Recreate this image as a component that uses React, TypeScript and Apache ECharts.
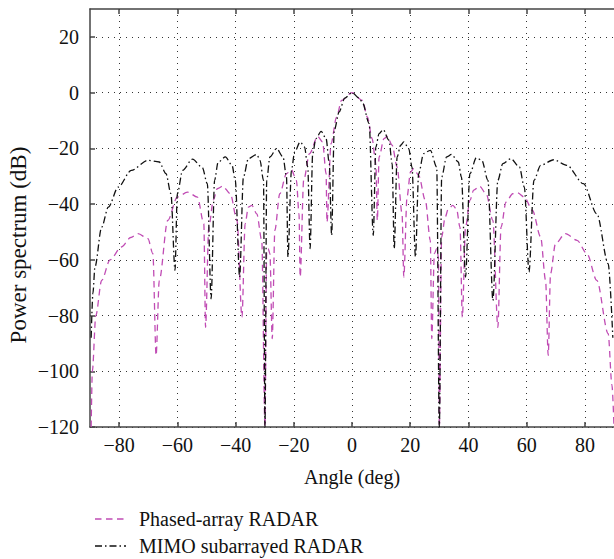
import React, { useEffect, useRef } from "react";
import * as echarts from "echarts";

const seriesNames = ["Phased-array RADAR", "MIMO subarrayed RADAR"];
const xTickValues = [-80, -60, -40, -20, 0, 20, 40, 60, 80];
const yTickValues = [-120, -100, -80, -60, -40, -20, 0, 20];

const phasedAngles = [
  -89.6, -89.2, -88.0, -86.0, -83.1, -79.2, -76.0, -73.5, -70.1, -68.4, -67.3,
  -66.2, -63.3, -60.0, -56.5, -53.1, -50.9, -50.3,
  -49.2, -47.6, -46.3, -44.4, -41.8, -39.5, -37.8,
  -36.7, -35.6, -34.4, -32.7, -31.0, -29.9,
  -29.3, -28.8, -28.2, -27.4,
  -26.5, -24.8, -22.5, -20.8, -19.1, -18.2, -17.8,
  -16.6, -14.6, -11.8, -10.1, -8.9, -8.6,
  -7.2, -5.3, -3.6, 0, 3.6, 5.3, 6.9, 8.2, 8.7,
  9.3, 11.0, 12.1, 13.8, 15.5, 17.2, 17.8,
  18.9, 20.1, 21.2, 22.9, 25.2, 26.9, 27.4,
  28.3, 29.1, 29.7, 30.0,
  30.8, 32.0, 33.1, 34.6, 35.9, 37.1, 37.9,
  39.0, 40.5, 41.8, 43.8, 46.1, 48.4, 50.1,
  51.2, 52.9, 55.2, 56.9, 59.2, 62.0, 64.8, 66.5, 67.4,
  68.2, 69.9, 73.3, 77.3, 80.7, 84.1, 88.0, 89.3, 90.0,
];
const phasedDb = [
  -120, -100, -80, -67.4, -60, -55.4, -52.0, -50.6, -52.4, -57.8, -94.3,
  -67.4, -45.9, -37.5, -35.7, -37.5, -47.0, -84.2,
  -48.3, -38.5, -34.5, -33.6, -36.3, -45.9, -80.6,
  -47.0, -41.1, -40.5, -43.5, -53.0, -120,
  -56.6, -56.0, -57.8, -88.3,
  -49.4, -36.3, -29.1, -27.7, -31.5, -43.5, -66.2,
  -31.5, -21.9, -15.7, -17.7, -29.1, -46.5,
  -18.3, -8.8, -2.8, 0, -2.8, -8.8, -16.5, -25.5, -45.9,
  -23.1, -16.5, -15.7, -18.9, -26.7, -43.5, -66.2,
  -37.5, -28.5, -27.3, -29.7, -38.7, -53.0, -88.3,
  -57.8, -56.0, -59.0, -120,
  -51.8, -44.7, -41.7, -40.5, -41.7, -48.3, -80.6,
  -48.3, -38.7, -35.0, -33.6, -36.3, -45.9, -84.2,
  -48.3, -39.3, -36.3, -36.0, -37.5, -42.3, -51.8, -67.4, -94.3,
  -65.0, -54.2, -50.6, -53.0, -57.8, -67.4, -86.5, -105, -120,
];

const mimoAngles = [
  -89.6, -89.0, -88.3, -86.0, -83.7, -80.3, -75.8, -70.1, -66.2, -63.9, -62.2, -60.8,
  -60.0, -58.2, -54.8, -51.4, -49.7, -48.4,
  -47.2, -46.0, -43.5, -41.2, -40.1, -38.6,
  -37.3, -35.6, -32.7, -31.6, -30.4, -29.9,
  -29.3, -28.2, -25.9, -23.7, -22.5, -22.0,
  -20.8, -19.7, -17.8, -16.3, -15.2, -14.4,
  -13.5, -12.4, -10.6, -8.9, -7.8, -7.0,
  -6.1, -4.4, -2.5, 0, 2.5, 3.6, 5.9, 7.3,
  8.2, 9.3, 10.7, 12.7, 13.8, 14.5,
  15.5, 16.7, 17.8, 19.5, 20.6, 21.8,
  22.9, 24.6, 26.9, 29.1, 30.0,
  30.8, 32.5, 34.2, 36.5, 37.6, 39.0,
  40.5, 42.7, 44.6, 46.7, 48.4,
  50.1, 51.8, 54.6, 57.5, 59.2, 60.8,
  62.5, 64.8, 69.3, 73.8, 79.5, 84.1, 88.0, 89.6,
];
const mimoDb = [
  -88, -72, -62.6, -48.3, -41.1, -33.9, -27.9, -24.3, -24.9, -29.1, -36.3, -63.8,
  -36.3, -27.9, -23.9, -26.9, -32.7, -74.0,
  -31.5, -25.0, -23.1, -26.1, -31.5, -66.2,
  -30.3, -23.7, -22.2, -24.3, -31.5, -120,
  -31.5, -23.1, -20.1, -23.1, -30.3, -59.0,
  -27.9, -21.3, -17.7, -19.5, -26.7, -56.0,
  -21.9, -16.5, -13.9, -16.5, -25.5, -51.2,
  -13.5, -6.9, -2.0, 0, -2.0, -3.6, -11.1, -51.2,
  -19.5, -14.7, -13.3, -17.1, -25.5, -56.0,
  -23.1, -18.9, -17.7, -20.1, -26.7, -59.0,
  -29.1, -21.9, -20.7, -26.7, -120,
  -30.3, -23.1, -22.2, -24.9, -30.3, -66.2,
  -29.1, -23.4, -24.3, -31.5, -74.6,
  -31.5, -25.5, -23.7, -26.7, -33.9, -64.4,
  -31.5, -26.1, -24.1, -26.1, -32.7, -43.5, -61.4, -88,
];

const FONT = "'Liberation Serif', 'Times New Roman', serif";
const PHASED_COLOR = "#c04cb4";
const MIMO_COLOR = "#111";
const PHASED_DASH = [6.5, 4.5];
const MIMO_DASH = [7, 3, 1.5, 3];
const minus = (v: number) => String(v).replace("-", "\u2212");

export default function App() {
  const ref = useRef<HTMLDivElement>(null);
  useEffect(() => {
    document.body.style.margin = "0";
    const chart = echarts.init(ref.current!, null, { renderer: "svg" });
    const axisColor = "#444";
    const gridLine = { show: true, lineStyle: { color: "#333", width: 1, type: [1, 5] } };
    const legendRow = (i: number, y: number, color: string, dash: number[]) => [
      {
        type: "line",
        shape: { x1: 95, y1: y, x2: 126, y2: y },
        style: { stroke: color, lineWidth: 1.3, lineDash: dash },
      },
      {
        type: "text",
        x: 139,
        y,
        style: {
          text: seriesNames[i],
          fontFamily: FONT,
          fontSize: 20,
          fill: "#111",
          align: "left",
          verticalAlign: "middle",
        },
      },
    ];
    chart.setOption({
      animation: false,
      textStyle: { fontFamily: FONT },
      grid: { left: 90, top: 9, width: 529, height: 418 },
      xAxis: [
        {
          type: "value",
          min: -90,
          max: 90,
          position: "bottom",
          name: "Angle (deg)",
          nameLocation: "middle",
          nameGap: 40,
          nameTextStyle: { fontFamily: FONT, fontSize: 20, color: "#111" },
          axisLine: { show: true, onZero: false, lineStyle: { color: axisColor, width: 1.5 } },
          axisTick: { show: true, inside: true, length: 5, customValues: xTickValues, lineStyle: { color: axisColor, width: 1.5 } },
          axisLabel: { customValues: xTickValues, formatter: minus, fontFamily: FONT, fontSize: 20, color: "#111", margin: 8 },
          splitLine: gridLine,
        },
        {
          type: "value",
          min: -90,
          max: 90,
          position: "top",
          axisLine: { show: true, onZero: false, lineStyle: { color: axisColor, width: 1.5 } },
          axisTick: { show: true, inside: true, length: 5, customValues: xTickValues, lineStyle: { color: axisColor, width: 1.5 } },
          axisLabel: { show: false },
          splitLine: { show: false },
        },
      ],
      yAxis: [
        {
          type: "value",
          min: -120,
          max: 30,
          position: "left",
          axisLine: { show: true, onZero: false, lineStyle: { color: axisColor, width: 1.5 } },
          axisTick: { show: true, inside: true, length: 5, customValues: yTickValues, lineStyle: { color: axisColor, width: 1.5 } },
          axisLabel: { customValues: yTickValues, formatter: minus, fontFamily: FONT, fontSize: 20, color: "#111", margin: 11 },
          splitLine: gridLine,
        },
      ],
      graphic: [
        {
          type: "text",
          x: 18,
          y: 245,
          rotation: Math.PI / 2,
          style: {
            text: "Power spectrum (dB)",
            fontFamily: FONT,
            fontSize: 23,
            fill: "#111",
            align: "center",
            verticalAlign: "middle",
          },
        },
        ...legendRow(0, 519, PHASED_COLOR, PHASED_DASH),
        ...legendRow(1, 546, MIMO_COLOR, MIMO_DASH),
      ],
      series: [
        {
          name: seriesNames[0],
          type: "line",
          symbol: "none",
          smooth: 0.3,
          smoothMonotone: "x",
          data: phasedAngles.map((a, i) => [a, phasedDb[i]]),
          lineStyle: { color: PHASED_COLOR, width: 1.3, type: PHASED_DASH },
          itemStyle: { color: PHASED_COLOR },
          z: 3,
        },
        {
          name: seriesNames[1],
          type: "line",
          symbol: "none",
          smooth: 0.3,
          smoothMonotone: "x",
          data: mimoAngles.map((a, i) => [a, mimoDb[i]]),
          lineStyle: { color: MIMO_COLOR, width: 1.3, type: MIMO_DASH },
          itemStyle: { color: MIMO_COLOR },
          z: 4,
        },
      ],
    });
    return () => chart.dispose();
  }, []);
  return <div ref={ref} style={{ width: 614, height: 559 }} />;
}
